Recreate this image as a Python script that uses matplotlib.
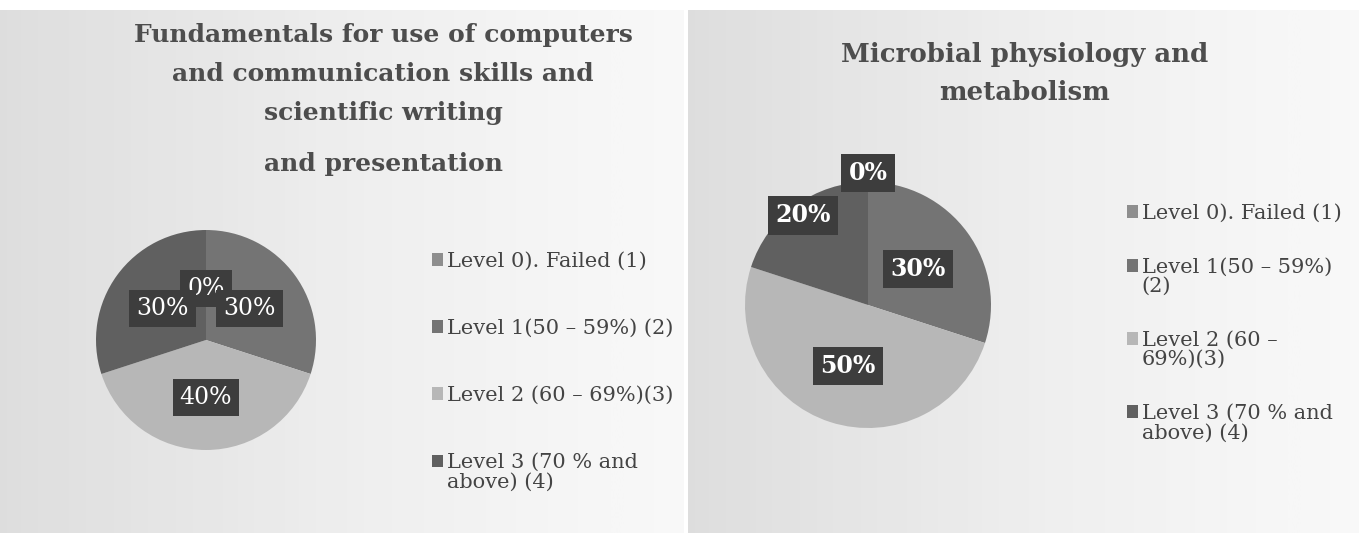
import matplotlib
matplotlib.use("Agg")
import matplotlib.pyplot as plt
from matplotlib.patches import Rectangle
from matplotlib.legend_handler import HandlerPatch
import numpy as np

# data
left_labels = ["Level 0). Failed (1)", "Level 1(50 – 59%) (2)",
               "Level 2 (60 – 69%)(3)", "Level 3 (70 % and\nabove) (4)"]
right_labels = ["Level 0). Failed (1)", "Level 1(50 – 59%)\n(2)",
                "Level 2 (60 –\n69%)(3)", "Level 3 (70 % and\nabove) (4)"]
left_values = [0, 30, 40, 30]
right_values = [0, 30, 50, 20]
left_title = "Fundamentals for use of computers\nand communication skills and\nscientific writing"
left_title2 = "and presentation"
right_title = "Microbial physiology and\nmetabolism"

colors = ["#8e8e8e", "#747474", "#b7b7b7", "#606060"]
serif = ["DejaVu Serif"]
W, H = 1359, 533

fig = plt.figure(figsize=(W / 100, H / 100), dpi=100)
fig.patch.set_facecolor("white")

# panel backgrounds
grad = np.linspace(0, 1, 256).reshape(1, -1)
for rect in ([0.0, 0.0, 684/W, 523/H], [688/W, 0.0, 671/W, 523/H]):
    bg = fig.add_axes(rect, zorder=0)
    bg.imshow(grad, aspect="auto", cmap="Greys_r", vmin=-4.5, vmax=1.3,
              extent=[0, 1, 0, 1])
    bg.axis("off")


def square_handler(shift):
    def make(legend, orig_handle, xdescent, ydescent, width, height, fontsize):
        return Rectangle((-xdescent, -ydescent + shift), width, height)
    return HandlerPatch(patch_func=make)


def draw_pie(rect, values, dists, labels, leg_xy, spacing, lab_size, lab_weight):
    ax = fig.add_axes(rect, zorder=2)
    wedges, _ = ax.pie(values, colors=colors, startangle=90, counterclock=False,
                       wedgeprops=dict(linewidth=0))
    ax.set_xlim(-1, 1)
    ax.set_ylim(-1, 1)
    ax.set_aspect("equal")
    for w, v, d in zip(wedges, values, dists):
        ang = np.deg2rad((w.theta1 + w.theta2) / 2)
        ax.text(d * np.cos(ang), d * np.sin(ang), f"{v}%", ha="center", va="center",
                color="white", fontsize=lab_size, fontweight=lab_weight, family=serif,
                bbox=dict(boxstyle="square,pad=0.3", fc="#3d3d3d", ec="none"),
                clip_on=False)
    fs = 15
    hmap = {w: square_handler(0.55 * fs if "\n" in lab else 0)
            for w, lab in zip(wedges, labels)}
    leg = fig.legend(wedges, labels, loc="upper left", bbox_to_anchor=leg_xy,
                     frameon=False, handlelength=0.55, handleheight=0.55,
                     handletextpad=0.15, labelspacing=spacing, borderpad=0,
                     borderaxespad=0, handler_map=hmap,
                     prop=dict(family=serif, size=fs), labelcolor="#444444")
    for t in leg.get_texts():
        t.set_linespacing(1.05)


draw_pie([96/W, 83/H, 220/W, 220/H], left_values,
         [0.47, 0.49, 0.52, 0.49], left_labels, (432/W, 1 - 252/H), 2.3,
         17, "normal")
draw_pie([745/W, 105/H, 246/W, 246/H], right_values,
         [1.07, 0.5, 0.52, 0.9], right_labels, (1127/W, 1 - 204/H), 1.65,
         17, "bold")

fig.text(383/W, 1 - 23/H, left_title, ha="center", va="top", fontsize=18,
         fontweight="bold", family=serif, color="#4d4d4d", linespacing=1.8)
fig.text(383/W, 1 - 164/H, left_title2, ha="center", va="center", fontsize=18,
         fontweight="bold", family=serif, color="#4d4d4d")
fig.text(1025/W, 1 - 42/H, right_title, ha="center", va="top", fontsize=18.7,
         fontweight="bold", family=serif, color="#4d4d4d", linespacing=1.65)

fig.savefig("out.png", dpi=100)
